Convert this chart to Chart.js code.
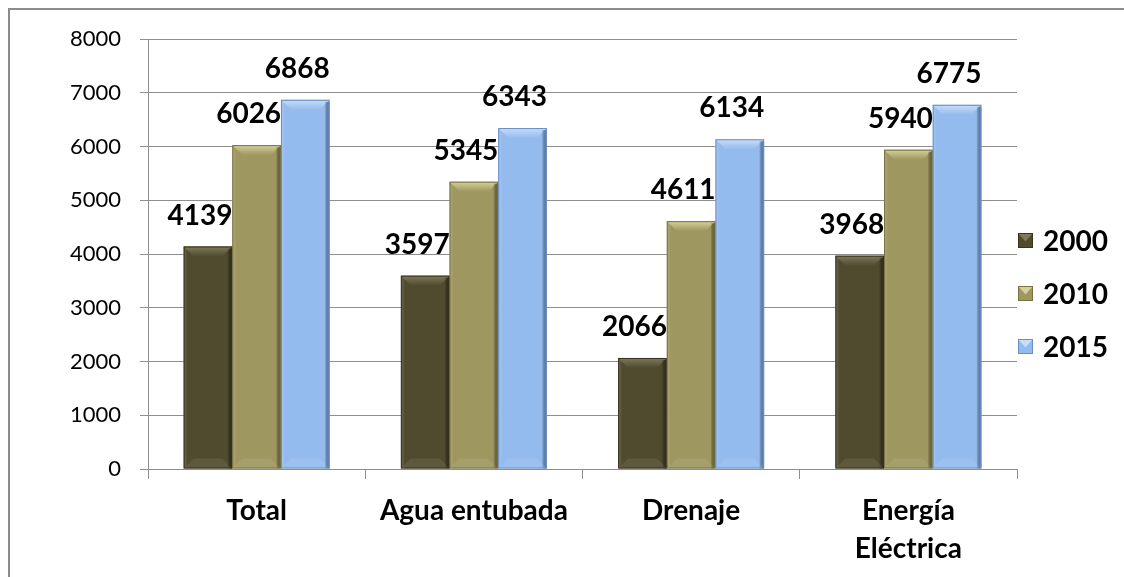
<!DOCTYPE html>
<html lang="es">
<head>
    <meta charset="UTF-8">
    <title>Viviendas con servicios</title>
    <script src="https://cdn.jsdelivr.net/npm/chart.js"></script>
    <style>
        html, body { margin: 0; padding: 0; background: #fff; }
        #wrap { position: relative; width: 1124px; height: 577px; }
    </style>
</head>
<body>
    <div id="wrap"><canvas id="chart" width="1124" height="577"></canvas></div>

    <script>
        // datos
        const categorias = ['Total', 'Agua entubada', 'Drenaje', ['Energía', 'Eléctrica']];
        const anios = ['2000', '2010', '2015'];
        const valores2000 = [4139, 3597, 2066, 3968];
        const valores2010 = [6026, 5345, 4611, 5940];
        const valores2015 = [6868, 6343, 6134, 6775];
        const ticksY = [0, 1000, 2000, 3000, 4000, 5000, 6000, 7000, 8000];

        // colores: relleno, bisel superior, borde oscuro
        const colores = [
            { base: '#504b2f', luz: '#7f7a5b', sombra: '#37331d' },
            { base: '#9e975f', luz: '#d6d09a', sombra: '#787142' },
            { base: '#94bbee', luz: '#c8def9', sombra: '#6a8ec2' }
        ];
        const fuente = 'Lato, Carlito, "Open Sans", sans-serif';

        // marco gris arriba e izquierda
        const marco = {
            id: 'marco',
            beforeDraw(chart) {
                const ctx = chart.ctx;
                ctx.save();
                ctx.strokeStyle = '#8c8c8c';
                ctx.lineWidth = 2;
                ctx.beginPath();
                ctx.moveTo(9, chart.height);
                ctx.lineTo(9, 9);
                ctx.lineTo(chart.width, 9);
                ctx.stroke();
                ctx.restore();
            }
        };

        // efecto bisel de Excel sobre cada barra
        const bisel = {
            id: 'bisel',
            afterDatasetsDraw(chart) {
                const ctx = chart.ctx;
                ctx.save();
                chart.data.datasets.forEach((ds, i) => {
                    const c = colores[i];
                    chart.getDatasetMeta(i).data.forEach(bar => {
                        const l = bar.x - bar.width / 2, r = bar.x + bar.width / 2;
                        const t = bar.y, b = bar.base;
                        const bv = Math.min(10, (b - t) / 2);
                        // bisel superior
                        const g = ctx.createLinearGradient(0, t, 0, t + bv);
                        g.addColorStop(0, c.luz);
                        g.addColorStop(1, c.base);
                        ctx.fillStyle = g;
                        ctx.beginPath();
                        ctx.moveTo(l, t); ctx.lineTo(r, t);
                        ctx.lineTo(r - bv, t + bv); ctx.lineTo(l + bv, t + bv);
                        ctx.closePath(); ctx.fill();
                        // lado derecho oscuro
                        const gr = ctx.createLinearGradient(r - 5, 0, r, 0);
                        gr.addColorStop(0, 'rgba(0,0,0,0)');
                        gr.addColorStop(1, c.sombra);
                        ctx.fillStyle = gr;
                        ctx.fillRect(r - 5, t + 2, 5, b - t - 2);
                        // lado izquierdo claro
                        const gl = ctx.createLinearGradient(l, 0, l + 4, 0);
                        gl.addColorStop(0, 'rgba(255,255,255,0.18)');
                        gl.addColorStop(1, 'rgba(255,255,255,0)');
                        ctx.fillStyle = gl;
                        ctx.fillRect(l, t + 2, 4, b - t - 2);
                        // bisel inferior suave
                        ctx.fillStyle = 'rgba(255,255,255,0.08)';
                        ctx.beginPath();
                        ctx.moveTo(l, b); ctx.lineTo(r, b);
                        ctx.lineTo(r - bv, b - bv); ctx.lineTo(l + bv, b - bv);
                        ctx.closePath(); ctx.fill();
                        ctx.strokeStyle = c.sombra;
                        ctx.lineWidth = 1;
                        ctx.strokeRect(l + 0.5, t + 0.5, bar.width - 1, b - t - 1);
                    });
                });
                ctx.restore();
            }
        };

        // etiquetas de valor encima de las barras
        const etiquetas = {
            id: 'etiquetas',
            afterDatasetsDraw(chart) {
                const ctx = chart.ctx;
                ctx.save();
                ctx.font = 'bold 28px ' + fuente;
                ctx.fillStyle = '#000';
                ctx.textAlign = 'center';
                ctx.textBaseline = 'alphabetic';
                chart.data.datasets.forEach((ds, i) => {
                    chart.getDatasetMeta(i).data.forEach((bar, j) => {
                        ctx.fillText(String(ds.data[j]), bar.x - 8, bar.y - 22);
                    });
                });
                ctx.restore();
            }
        };

        // leyenda a la derecha
        const leyenda = {
            id: 'leyenda',
            afterDraw(chart) {
                const ctx = chart.ctx;
                const x = chart.chartArea.right + 1;
                const yc = chart.height / 2 + 5;
                ctx.save();
                ctx.font = 'bold 28px ' + fuente;
                ctx.textBaseline = 'middle';
                ctx.textAlign = 'left';
                chart.data.datasets.forEach((ds, i) => {
                    const c = colores[i];
                    const y = yc + (i - 1) * 53;
                    const s = 15;
                    ctx.fillStyle = c.base;
                    ctx.fillRect(x, y - s / 2, s, s);
                    ctx.fillStyle = c.luz;
                    ctx.beginPath();
                    ctx.moveTo(x, y - s / 2); ctx.lineTo(x + s, y - s / 2);
                    ctx.lineTo(x + s / 2, y + 1);
                    ctx.closePath(); ctx.fill();
                    ctx.strokeStyle = c.sombra;
                    ctx.lineWidth = 1;
                    ctx.strokeRect(x + 0.5, y - s / 2 + 0.5, s - 1, s - 1);
                    ctx.fillStyle = '#000';
                    ctx.fillText(ds.label, x + 25, y + 1);
                });
                ctx.restore();
            }
        };

        const series = [valores2000, valores2010, valores2015];

        new Chart(document.getElementById('chart'), {
            type: 'bar',
            data: {
                labels: categorias,
                datasets: series.map((vals, i) => ({
                    label: anios[i],
                    data: vals,
                    backgroundColor: colores[i].base,
                    borderWidth: 0,
                    categoryPercentage: 0.672,
                    barPercentage: 1
                }))
            },
            options: {
                responsive: false,
                animation: false,
                layout: { padding: { left: 9, top: 39, right: 107, bottom: 0 } },
                plugins: {
                    legend: { display: false },
                    tooltip: { enabled: false }
                },
                scales: {
                    y: {
                        min: 0,
                        max: 8000,
                        afterBuildTicks: s => { s.ticks = ticksY.map(v => ({ value: v })); },
                        afterFit: s => { s.width = 139; },
                        grid: { color: '#8e8e8e', lineWidth: 1, tickLength: 8 },
                        border: { color: '#8e8e8e', width: 1 },
                        ticks: {
                            padding: 19,
                            color: '#000',
                            callback: v => String(v),
                            font: { family: fuente, size: 22 }
                        }
                    },
                    x: {
                        afterFit: s => { s.height = 108; },
                        grid: { drawOnChartArea: false, tickLength: 10, offset: true, color: '#8e8e8e' },
                        border: { color: '#8e8e8e', width: 1 },
                        ticks: {
                            padding: 13,
                            color: '#000',
                            maxRotation: 0,
                            autoSkip: false,
                            font: { family: fuente, size: 28, weight: 'bold', lineHeight: 1.35 }
                        }
                    }
                }
            },
            plugins: [marco, bisel, etiquetas, leyenda]
        });
    </script>
</body>
</html>
